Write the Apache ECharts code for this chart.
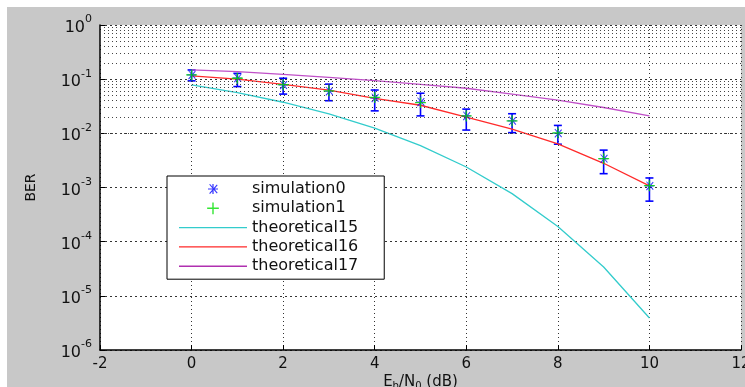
<!DOCTYPE html>
<html>
<head>
<meta charset="utf-8">
<script src="https://cdn.jsdelivr.net/npm/echarts@6/dist/echarts.min.js"></script>
<style>
  html, body { margin: 0; padding: 0; background: #fff; }
  #main { width: 745px; height: 387px; }
</style>
</head>
<body>
<div id="main"></div>
<script>
// Eb/N0 values (dB)
var snr = [0, 1, 2, 3, 4, 5, 6, 7, 8, 9, 10];

// simulated BER (blue stars) and its error bar limits
var sim0 = [0.12, 0.105, 0.078, 0.060, 0.045, 0.038, 0.021, 0.017, 0.010, 0.0034, 0.00107];
var sim0Low = [0.093, 0.073, 0.053, 0.040, 0.026, 0.021, 0.0115, 0.0103, 0.0063, 0.0018, 0.00056];
var sim0High = [0.148, 0.128, 0.104, 0.081, 0.063, 0.055, 0.028, 0.023, 0.014, 0.0049, 0.0015];

// second simulation (green plus)
var sim1 = [0.12, 0.104, 0.079, 0.061, 0.046, 0.037, 0.021, 0.017, 0.0102, 0.0034, 0.00108];

// theoretical curves
var theo15 = [0.0786, 0.0563, 0.0375, 0.0229, 0.0125, 0.00595, 0.00239, 0.00077, 0.00019, 0.000034, 0.0000039];
var theo16 = [0.115, 0.100, 0.080, 0.063, 0.044, 0.033, 0.020, 0.012, 0.0064, 0.0028, 0.00107];
var theo17 = [0.148, 0.138, 0.123, 0.108, 0.094, 0.080, 0.068, 0.053, 0.041, 0.030, 0.021];

var yDecades = [1e-6, 1e-5, 1e-4, 1e-3, 1e-2, 1e-1, 1];

var chartDom = document.getElementById('main');
var myChart = echarts.init(chartDom);

function pairs(ys) {
  return snr.map(function (x, i) { return [x, ys[i]]; });
}

// log minor grid lines at 2..9 x decade
var minorLines = [];
for (var d = 0; d < yDecades.length - 1; d++) {
  for (var m = 2; m <= 9; m++) {
    minorLines.push({ yAxis: m * yDecades[d] });
  }
}

var starPath = 'path://M4.4,0h1.2v10h-1.2z M0,4.4h10v1.2h-10z M1.2,0.4l0.85,-0.4l7.6,8.8l-0.85,0.8z M8.8,0.4l0.85,0.8l-7.6,8.8l-0.85,-0.8z';
var plusPath = 'path://M4.4,0h1.2v10h-1.2z M0,4.4h10v1.2h-10z';
// legend icons padded with empty sub-paths so the mark stays small
var starIcon = 'path://M-2,-2L-1.9,-2 M11.9,12L12,12 M4.4,0h1.2v10h-1.2z M0,4.4h10v1.2h-10z M1.2,0.4l0.85,-0.4l7.6,8.8l-0.85,0.8z M8.8,0.4l0.85,0.8l-7.6,8.8l-0.85,-0.8z';
var plusIcon = 'path://M-1,-1L-0.9,-1 M10.9,11L11,11 M4.4,0h1.2v10h-1.2z M0,4.4h10v1.2h-10z';
var lineIcon = 'path://M0,0L68,0 M0,6.4h68v1.3h-68z M0,14L68,14';

var font = 'DejaVu Sans';

var option = {
  animation: false,
  backgroundColor: '#fff',
  textStyle: { fontFamily: font },
  graphic: [
    {
      type: 'rect',
      z: -10,
      shape: { x: 7, y: 7, width: 738, height: 380 },
      style: { fill: '#c8c8c8' }
    }
  ],
  grid: {
    left: 100, right: 4, top: 25, bottom: 37,
    outerBoundsMode: 'none',
    containLabel: false,
    show: true, backgroundColor: '#fff', borderWidth: 0
  },
  legend: {
    orient: 'vertical',
    left: 167, top: 176,
    backgroundColor: '#fff',
    borderColor: '#000',
    borderWidth: 1,
    borderRadius: 0,
    padding: [5, 26, 5, 12],
    itemWidth: 68,
    itemHeight: 14,
    itemGap: 3.3,
    textStyle: { fontFamily: font, fontSize: 16, color: '#111' },
    data: [
      { name: 'simulation0', icon: starIcon, itemStyle: { color: '#0000ff' } },
      { name: 'simulation1', icon: plusIcon, itemStyle: { color: '#00e000' } },
      { name: 'theoretical15', icon: lineIcon, itemStyle: { color: '#33cccc' } },
      { name: 'theoretical16', icon: lineIcon, itemStyle: { color: '#ff2a2a' } },
      { name: 'theoretical17', icon: lineIcon, itemStyle: { color: '#b030b0' } }
    ]
  },
  xAxis: {
    type: 'value',
    min: -2, max: 12, interval: 2,
    name: '{n|E}{s|b}{n|/N}{s|0}{n| (dB)}',
    nameLocation: 'middle',
    nameGap: 23,
    nameMoveOverlap: false,
    nameTextStyle: {
      rich: {
        n: { fontFamily: font, fontSize: 15, color: '#111', lineHeight: 18 },
        s: { fontFamily: font, fontSize: 10, color: '#111', lineHeight: 10, verticalAlign: 'bottom' }
      }
    },
    axisLine: { onZero: false, lineStyle: { color: '#000', width: 1.5 } },
    axisTick: { inside: true, length: 5, lineStyle: { color: '#000' } },
    axisLabel: { fontFamily: font, fontSize: 15, color: '#111', margin: 7 },
    splitLine: { show: true, lineStyle: { color: '#333', type: [1, 3], width: 1 } }
  },
  yAxis: {
    type: 'log',
    logBase: 10,
    min: 1e-6, max: 1,
    name: 'BER',
    nameLocation: 'middle',
    nameGap: 62,
    nameMoveOverlap: false,
    nameTextStyle: { fontFamily: font, fontSize: 14, color: '#111' },
    axisLine: { onZero: false, lineStyle: { color: '#000', width: 1.5 } },
    axisTick: { inside: true, length: 5, lineStyle: { color: '#000' } },
    axisLabel: {
      margin: 8,
      formatter: function (v) {
        var e = Math.round(Math.log10(v));
        return '{b|10}{e|' + e + '}';
      },
      rich: {
        b: { fontFamily: font, fontSize: 16, color: '#111', lineHeight: 22, verticalAlign: 'bottom' },
        e: { fontFamily: font, fontSize: 11, color: '#111', lineHeight: 11, verticalAlign: 'top' }
      }
    },
    splitLine: { show: true, lineStyle: { color: '#333', type: [2, 3], width: 1 } }
  },
  series: [
    {
      name: 'minorGrid',
      type: 'line',
      data: [],
      silent: true,
      markLine: {
        silent: true,
        symbol: ['none', 'none'],
        label: { show: false },
        lineStyle: { color: '#444', type: [1, 3], width: 1 },
        data: minorLines
      }
    },
    {
      name: 'theoretical15',
      type: 'line',
      data: pairs(theo15),
      symbol: 'none',
      color: '#33cccc',
      lineStyle: { width: 1.3, color: '#33cccc' }
    },
    {
      name: 'theoretical16',
      type: 'line',
      data: pairs(theo16),
      symbol: 'none',
      color: '#ff2a2a',
      lineStyle: { width: 1.3, color: '#ff2a2a' }
    },
    {
      name: 'theoretical17',
      type: 'line',
      data: pairs(theo17),
      symbol: 'none',
      color: '#b030b0',
      lineStyle: { width: 1.3, color: '#c050c8' }
    },
    {
      name: 'errorbars',
      type: 'custom',
      silent: true,
      data: snr.map(function (x, i) { return [x, sim0Low[i], sim0High[i]]; }),
      renderItem: function (params, api) {
        var lo = api.coord([api.value(0), api.value(1)]);
        var hi = api.coord([api.value(0), api.value(2)]);
        var w = 4;
        var style = { stroke: '#0000ff', lineWidth: 1.6 };
        return {
          type: 'group',
          children: [
            { type: 'line', shape: { x1: lo[0], y1: lo[1], x2: hi[0], y2: hi[1] }, style: style },
            { type: 'line', shape: { x1: lo[0] - w, y1: lo[1], x2: lo[0] + w, y2: lo[1] }, style: style },
            { type: 'line', shape: { x1: hi[0] - w, y1: hi[1], x2: hi[0] + w, y2: hi[1] }, style: style }
          ]
        };
      },
      z: 3
    },
    {
      name: 'simulation0',
      type: 'scatter',
      data: pairs(sim0),
      symbol: starPath,
      symbolSize: 9,
      itemStyle: { color: '#0000ff' },
      z: 4
    },
    {
      name: 'simulation1',
      type: 'scatter',
      data: pairs(sim1),
      symbol: plusPath,
      symbolSize: 11,
      itemStyle: { color: '#00e000' },
      z: 5
    }
  ]
};

option && myChart.setOption(option);
</script>
</body>
</html>
